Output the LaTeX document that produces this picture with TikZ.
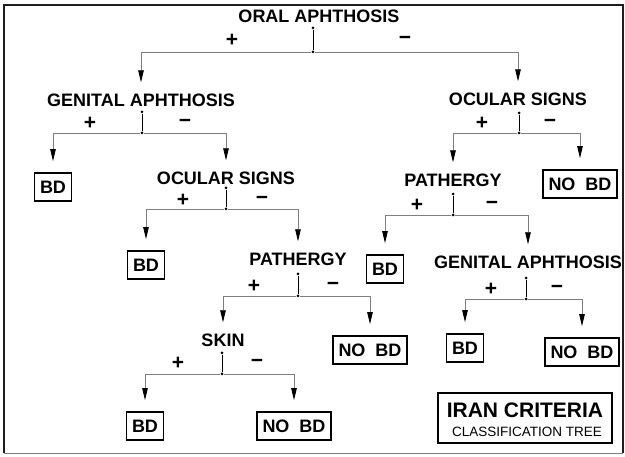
\documentclass[tikz,border=0pt]{standalone}
\usepackage{fontspec}
\setmainfont{Liberation Sans}
\usetikzlibrary{arrows.meta}
\definecolor{wire}{HTML}{7F7F7F}
\definecolor{rimgray}{HTML}{1E1E1E}
\newcommand{\labelfont}{\fontsize{18}{18}\selectfont\bfseries}
\newcommand{\signfont}{\fontsize{21}{21}\selectfont\bfseries}
\tikzset{
  test/.style     = {font=\labelfont, inner sep=0pt, text height=13pt, text depth=0pt},
  leaf/.style     = {test, draw, line width=1.7pt, inner xsep=5.5pt, minimum height=28pt},
  sign/.style     = {font=\signfont, inner sep=0pt},
  knot/.style     = {circle, fill=black, inner sep=0pt, minimum size=3pt},
  stem/.style     = {line width=0.7pt, draw=black},
  branch/.style   = {line width=0.8pt, draw=wire, shorten >=11pt,
                     -{Triangle[length=12pt, width=5.5pt, color=black]}},
  rim/.style      = {line width=1.3pt, draw=rimgray},
  titlebox/.style = {draw, line width=1.7pt, minimum width=174pt, minimum height=50pt, inner sep=0pt},
}

\begin{document}
\begin{tikzpicture}[x=1pt, y=-1pt]
  \useasboundingbox (0,0) rectangle (625,457);
  \draw[rim] (4,453) |- (623,5) -- (623,453);
  \draw[draw=wire, line width=0.9pt] (4,453) -- (623,453);

  \foreach \n/\x/\y/\t in {%
     oral/319/16/ORAL APHTHOSIS,
      ga1/141/100/GENITAL APHTHOSIS,
      os1/518/99/OCULAR SIGNS,
      os2/226/178/OCULAR SIGNS,
      pa1/453/180/PATHERGY,
      pa2/298/259/PATHERGY,
      ga2/528/262/GENITAL APHTHOSIS,
     skin/223/340/SKIN%
  } {
    \node[test] (\n) at (\x,\y) {\t};
  }

  \foreach \n/\x/\y/\t in {%
      bd1/53/187/BD,
    nobd1/580/184/NO\ \ BD,
      bd2/146/265/BD,
      bd3/385/269/BD,
    nobd2/370/350/NO\ \ BD,
      bd4/465/348/BD,
    nobd3/582/352/NO\ \ BD,
      bd5/145/426/BD,
    nobd4/294/426/NO\ \ BD%
  } {
    \node[leaf] (\n) at (\x,\y) {\t};
  }

  \foreach \p/\x/\yd/\yj/\xp/\xm/\ys/\l/\r in {%
     oral/313/28/52/232/405/40/ga1/os1,
      ga1/142/112/133/90/185/123/bd1/os2,
      os1/519/113/133/482/550/123/pa1/nobd1,
      os2/226/188/209/183/262/200/bd2/pa2,
      pa1/453/194/215/417/492/205/bd3/ga2,
      pa2/298/274/296/254/333/286/skin/nobd2,
      ga2/526/278/299/491/557/289/bd4/nobd3,
     skin/222/353/374/178/257/363/bd5/nobd4%
  } {
    \node[knot] (\p-d) at (\x,\yd) {};
    \node[knot] (\p-j) at (\x,\yj) {};
    \draw[stem] (\p-d) -- (\p-j);
    \draw[branch] (\p-j) -| (\l);
    \draw[branch] (\p-j) -| (\r);
    \node[sign] (\p-yes) at (\xp,\ys) {+};
    \node[sign] (\p-no) at (\xm,\ys) {−};
  }

  \node[titlebox] (iran) at (525,418) {};
  \node[font=\fontsize{21}{21}\selectfont\bfseries, inner sep=0pt] (iran-t) at (525,410) {IRAN CRITERIA};
  \node[font=\fontsize{13.5}{14}\selectfont, inner sep=0pt] (iran-s) at (527,432) {CLASSIFICATION TREE};
\end{tikzpicture}
\end{document}
